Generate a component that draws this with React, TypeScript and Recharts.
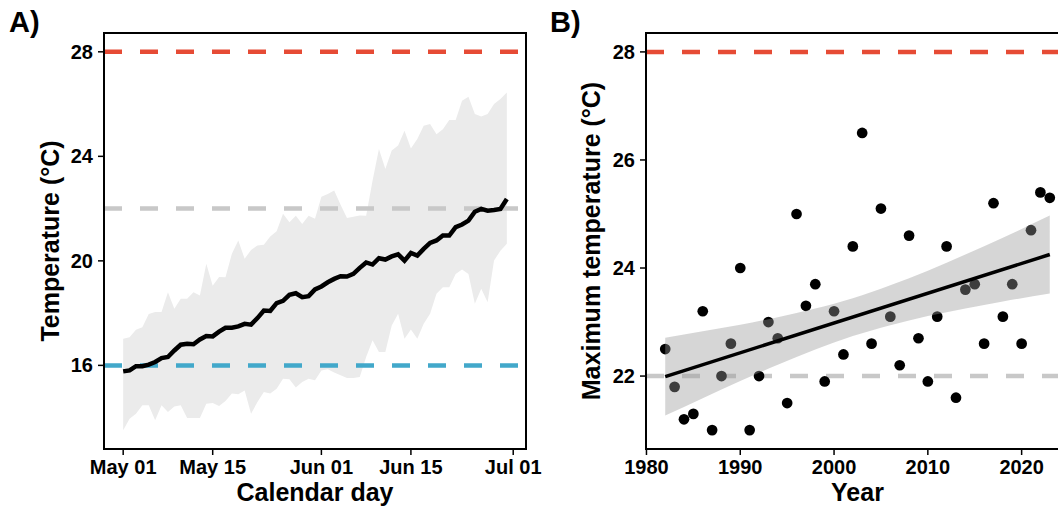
import React from "react";
import { ComposedChart, Area, Line, Scatter, XAxis, YAxis, ZAxis, ReferenceLine, ReferenceArea } from "recharts";

// ---- Panel A: daily temperature, May 01 .. Jun 30 ----
const dayTickValues = [0, 14, 31, 45, 61];
const dayTickLabels = ["May 01", "May 15", "Jun 01", "Jun 15", "Jul 01"];

const meanTemp = [
  15.77, 15.81, 15.97, 15.97, 16.03, 16.13, 16.28, 16.32, 16.57, 16.79,
  16.83, 16.81, 16.99, 17.12, 17.11, 17.29, 17.44, 17.44, 17.49, 17.59,
  17.56, 17.81, 18.1, 18.08, 18.38, 18.47, 18.7, 18.76, 18.61, 18.65,
  18.91, 19.02, 19.18, 19.31, 19.41, 19.4, 19.5, 19.73, 19.94, 19.86,
  20.1, 20.05, 20.17, 20.25, 20.01, 20.3, 20.2, 20.46, 20.69, 20.78,
  20.97, 20.97, 21.29, 21.39, 21.54, 21.88, 21.99, 21.92, 21.95, 21.99,
  22.37,
];
const upperTemp = [
  17.02, 17.08, 17.36, 17.46, 17.97, 18.04, 18.04, 18.8, 18.17, 18.55,
  18.55, 18.8, 18.67, 19.89, 19.05, 19.38, 19.37, 20.27, 20.78, 20.08,
  20.42, 20.59, 20.62, 20.93, 21.13, 21.8, 21.48, 21.73, 21.41, 21.73,
  21.61, 22.45, 22.56, 22.69, 22.15, 21.64, 21.69, 21.74, 21.73, 23.07,
  24.28, 23.52, 24.22, 24.41, 24.98, 24.3, 24.66, 25.17, 25.24, 24.85,
  25.04, 25.39, 25.39, 26.13, 26.28, 25.62, 25.52, 25.62, 26.0, 26.19,
  26.44,
];
const lowerTemp = [
  13.52, 13.96, 14.15, 14.47, 14.47, 13.9, 14.47, 14.22, 14.43, 14.47,
  13.99, 13.99, 13.99, 14.53, 14.56, 14.45, 14.64, 14.92, 14.9, 15.04,
  14.15, 14.6, 14.98, 14.92, 15.11, 15.49, 15.47, 15.15, 15.36, 15.49,
  15.43, 15.8, 15.85, 15.73, 15.62, 15.52, 15.52, 15.56, 16.32, 16.96,
  16.51, 16.51, 17.53, 17.98, 17.02, 17.37, 17.02, 17.59, 17.98, 18.74,
  18.99, 18.99, 19.5, 19.67, 19.5, 18.36, 18.93, 18.42, 20.01, 20.39,
  20.65,
];
const tempTicksA = [16, 20, 24, 28];
const dayDomain = [-3, 63];
const tempDomainA = [12.8, 28.72];

// ---- Panel B: yearly maximum temperature ----
const firstYear = 1982;
const maxTemps = [
  22.5, 21.8, 21.2, 21.3, 23.2, 21.0, 22.0, 22.6, 24.0, 21.0,
  22.0, 23.0, 22.7, 21.5, 25.0, 23.3, 23.7, 21.9, 23.2, 22.4,
  24.4, 26.5, 22.6, 25.1, 23.1, 22.2, 24.6, 22.7, 21.9, 23.1,
  24.4, 21.6, 23.6, 23.7, 22.6, 25.2, 23.1, 23.7, 22.6, 24.7,
  25.4, 25.3,
];
const bandYears = [1982, 1986, 1990, 1994, 1998, 2002, 2006, 2010, 2014, 2018, 2023];
const bandLow = [21.27, 21.59, 21.91, 22.21, 22.49, 22.74, 22.94, 23.11, 23.25, 23.38, 23.53];
const bandHigh = [22.71, 22.83, 22.95, 23.09, 23.25, 23.44, 23.68, 23.95, 24.25, 24.56, 24.97];
const fitYears = [1982, 2023];
const fitValues = [21.99, 24.25];
const yearTicks = [1980, 1990, 2000, 2010, 2020];
const tempTicksB = [22, 24, 26, 28];
const yearDomain = [1979.95, 2025.05];
const tempDomainB = [20.65, 28.35];

const dailyRows = meanTemp.map((m, i) => ({
  day: i,
  mean: m,
  band: [lowerTemp[i], upperTemp[i]],
}));

const yearRows = maxTemps.map((t, i) => {
  const year = firstYear + i;
  const b = bandYears.indexOf(year);
  const f = fitYears.indexOf(year);
  return {
    year,
    temp: t,
    band: b >= 0 ? [bandLow[b], bandHigh[b]] : null,
    fit: f >= 0 ? fitValues[f] : null,
  };
});

const RED = "#E64B35";
const GREY = "#c8c8c8";
const BLUE = "#42A8CA";

const tickStyle = { fill: "#000", fontSize: 20, fontWeight: 700 };
const titleStyle = { fill: "#000", fontSize: 25, fontWeight: 700, textAnchor: "middle" as const };
const axisLine = { stroke: "#000", strokeWidth: 2 };
const tickLine = { stroke: "#000", strokeWidth: 1.5 };
const dash = "18 18";

export default function App() {
  return (
    <div
      style={{
        position: "absolute",
        left: 0,
        top: 0,
        width: 1058,
        height: 509,
        overflow: "hidden",
        background: "#fff",
        fontFamily: "'Liberation Sans', Arial, Helvetica, sans-serif",
      }}
    >
      {/* Panel A */}
      <div style={{ position: "absolute", left: 0, top: 0 }}>
        <ComposedChart width={560} height={509} data={dailyRows} margin={{ top: 33, right: 34, bottom: 0, left: 0 }}>
          <XAxis
            dataKey="day"
            type="number"
            domain={dayDomain}
            ticks={dayTickValues}
            interval={0}
            allowDataOverflow
            tickFormatter={(v) => dayTickLabels[dayTickValues.indexOf(v)]}
            height={60}
            tickSize={6}
            tickMargin={5}
            tick={tickStyle}
            axisLine={axisLine}
            tickLine={tickLine}
            label={{ value: "Calendar day", position: "insideBottom", offset: 8, fill: "#000", style: titleStyle }}
          />
          <YAxis
            type="number"
            domain={tempDomainA}
            ticks={tempTicksA}
            interval={0}
            allowDataOverflow
            width={104}
            tickSize={6}
            tickMargin={5}
            tick={tickStyle}
            axisLine={axisLine}
            tickLine={tickLine}
            label={{ value: "Temperature (°C)", angle: -90, position: "insideLeft", offset: 50, fill: "#000", style: titleStyle }}
          />
          <Area dataKey="band" type="linear" stroke="none" fill="#ebebeb" fillOpacity={1} isAnimationActive={false} />
          <ReferenceLine y={28} stroke={RED} strokeWidth={4.5} strokeDasharray={dash} />
          <ReferenceLine y={22} stroke={GREY} strokeWidth={4.5} strokeDasharray={dash} />
          <ReferenceLine y={16} stroke={BLUE} strokeWidth={4.5} strokeDasharray={dash} />
          <Line dataKey="mean" type="linear" stroke="#000" strokeWidth={4.5} dot={false} activeDot={false} isAnimationActive={false} />
          <ReferenceArea
            x1={dayDomain[0]}
            x2={dayDomain[1]}
            y1={tempDomainA[0]}
            y2={tempDomainA[1]}
            fill="none"
            fillOpacity={0}
            stroke="#000"
            strokeWidth={2}
            strokeOpacity={1}
            ifOverflow="visible"
          />
        </ComposedChart>
      </div>

      {/* Panel B */}
      <div style={{ position: "absolute", left: 540, top: 0 }}>
        <ComposedChart width={535} height={509} data={yearRows} margin={{ top: 33, right: 6, bottom: 0, left: 0 }}>
          <XAxis
            dataKey="year"
            type="number"
            domain={yearDomain}
            ticks={yearTicks}
            interval={0}
            allowDataOverflow
            height={60}
            tickSize={6}
            tickMargin={5}
            tick={tickStyle}
            axisLine={axisLine}
            tickLine={tickLine}
            label={{ value: "Year", position: "insideBottom", offset: 8, fill: "#000", style: titleStyle }}
          />
          <YAxis
            type="number"
            domain={tempDomainB}
            ticks={tempTicksB}
            interval={0}
            allowDataOverflow
            width={106}
            tickSize={6}
            tickMargin={5}
            tick={tickStyle}
            axisLine={axisLine}
            tickLine={tickLine}
            label={{ value: "Maximum temperature (°C)", angle: -90, position: "insideLeft", offset: 51, fill: "#000", style: titleStyle }}
          />
          <ZAxis range={[90, 90]} />
          <ReferenceLine y={28} stroke={RED} strokeWidth={4.5} strokeDasharray={dash} zIndex={10} />
          <ReferenceLine y={22} stroke={GREY} strokeWidth={4.5} strokeDasharray={dash} zIndex={10} />
          <Scatter dataKey="temp" fill="#000" isAnimationActive={false} zIndex={50} />
          <Area dataKey="band" type="monotone" stroke="none" fill="#999999" fillOpacity={0.4} connectNulls isAnimationActive={false} zIndex={100} />
          <Line dataKey="fit" type="linear" stroke="#000" strokeWidth={3.5} dot={false} activeDot={false} connectNulls isAnimationActive={false} zIndex={400} />
          <ReferenceArea
            x1={yearDomain[0]}
            x2={yearDomain[1]}
            y1={tempDomainB[0]}
            y2={tempDomainB[1]}
            fill="none"
            fillOpacity={0}
            stroke="#000"
            strokeWidth={2}
            strokeOpacity={1}
            ifOverflow="visible"
          />
        </ComposedChart>
      </div>

      <svg width={1058} height={509} style={{ position: "absolute", left: 0, top: 0, pointerEvents: "none" }}>
        <text x={9} y={32} fontSize={29} fontWeight={700} fill="#000">A)</text>
        <text x={550} y={32} fontSize={29} fontWeight={700} fill="#000">B)</text>
      </svg>
    </div>
  );
}
